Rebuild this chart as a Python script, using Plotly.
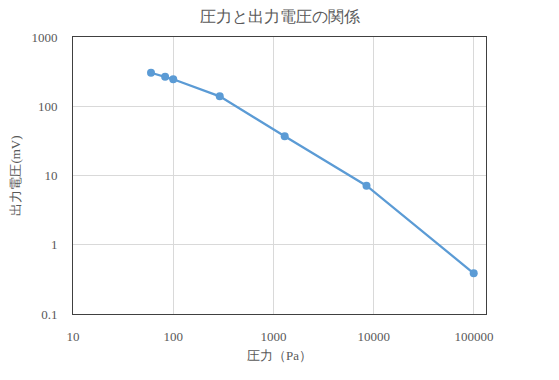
import plotly.graph_objects as go

pressure = [60, 83, 100, 291, 1294, 8470, 99400]
voltage = [305, 267, 245, 139, 36.8, 7.13, 0.387]

x_ticks = [10, 100, 1000, 10000, 100000]
x_labels = ["10", "100", "1000", "10000", "100000"]
y_ticks = [0.1, 1, 10, 100, 1000]
y_labels = ["0.1", "1", "10", "100", "1000"]

title = "圧力と出力電圧の関係"
x_title = "圧力（Pa）"
y_title = "出力電圧(mV)"

FONT = "Times New Roman"
GRAY = "#595959"

fig = go.Figure()
fig.add_trace(go.Scatter(
    x=pressure, y=voltage, mode="lines+markers",
    line=dict(color="#5B9BD5", width=2.25),
    marker=dict(color="#5B9BD5", size=8),
    showlegend=False,
))

fig.update_layout(
    width=559, height=380,
    margin=dict(l=65, r=81, t=29, b=74),
    paper_bgcolor="white", plot_bgcolor="white",
    font=dict(family=FONT, color=GRAY, size=13),
    title=dict(text=title, x=(280 - 8) / 559, xanchor="center", y=1 - 8 / 380, yanchor="middle",
               font=dict(family=FONT, size=16, color=GRAY)),
)
fig.update_xaxes(
    type="log", range=[1, 5.12],
    tickvals=x_ticks, ticktext=x_labels,
    showgrid=True, gridcolor="#D9D9D9", gridwidth=1,
    showline=True, linecolor="#404040", linewidth=1, mirror=True,
    ticks="", ticklabelstandoff=10, automargin=False,
    tickfont=dict(family=FONT, size=13, color=GRAY),
    title=dict(text=x_title, font=dict(family=FONT, size=13, color=GRAY), standoff=8),
    zeroline=False,
)
fig.update_yaxes(
    type="log", range=[-1, 3],
    tickvals=y_ticks, ticktext=y_labels,
    showgrid=True, gridcolor="#D9D9D9", gridwidth=1,
    showline=True, linecolor="#404040", linewidth=1, mirror=True,
    ticks="", ticklabelstandoff=12, automargin=False,
    tickfont=dict(family=FONT, size=13, color=GRAY),
    title=dict(text=y_title, font=dict(family=FONT, size=13, color=GRAY), standoff=10),
    zeroline=False,
)

fig.write_html("out.html")
